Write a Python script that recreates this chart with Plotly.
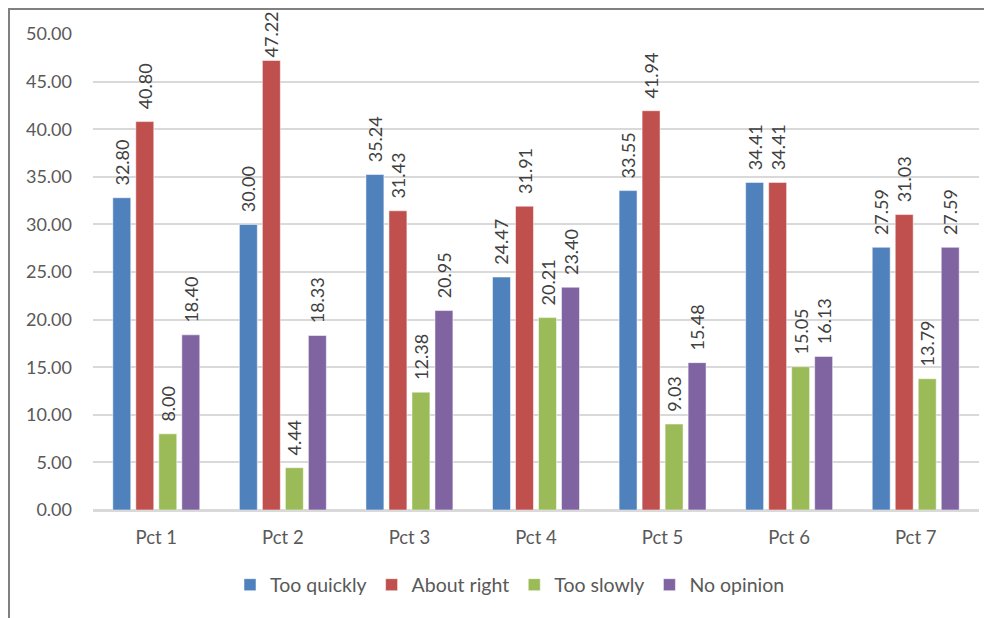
import plotly.graph_objects as go

categories = ["Pct 1", "Pct 2", "Pct 3", "Pct 4", "Pct 5", "Pct 6", "Pct 7"]
too_quickly = [32.80, 30.00, 35.24, 24.47, 33.55, 34.41, 27.59]
about_right = [40.80, 47.22, 31.43, 31.91, 41.94, 34.41, 31.03]
too_slowly = [8.00, 4.44, 12.38, 20.21, 9.03, 15.05, 13.79]
no_opinion = [18.40, 18.33, 20.95, 23.40, 15.48, 16.13, 27.59]
y_ticks = [0, 5, 10, 15, 20, 25, 30, 35, 40, 45, 50]

series = [
    ("Too quickly", too_quickly, "#4F81BD"),
    ("About right", about_right, "#C0504D"),
    ("Too slowly", too_slowly, "#9BBB59"),
    ("No opinion", no_opinion, "#8064A2"),
]

FONT = "Lato, 'Open Sans', sans-serif"


def label(v):
    # near the top of the chart the label sits tight on the bar (no room for the gap)
    pad = "" if v > 45 else "\u00a0\u00a0"
    return pad + f"{v:.2f}"


fig = go.Figure()
for name, vals, color in series:
    fig.add_trace(go.Bar(
        name=name, x=categories, y=vals,
        marker=dict(color=color, line=dict(color="white", width=0.5)),
        text=[label(v) for v in vals],
        textposition="outside", textangle=-90, constraintext="none",
        textfont=dict(family=FONT, size=18, color="#404040"),
        cliponaxis=False,
    ))

# page is offset by 8px body margin
W, H = 984, 610
L, R, T, B = 85, 13, 26, 108
pw, ph = W - L - R, H - T - B

def px(x):
    return (x - L) / pw

def py(y):
    return (H - B - y) / ph

fig.update_layout(
    width=W, height=H,
    margin=dict(l=L, r=R, t=T, b=B, autoexpand=False),
    paper_bgcolor="white", plot_bgcolor="white",
    barmode="group", bargap=0.273, bargroupgap=0.22,
    font=dict(family=FONT, size=18, color="#595959"),
    showlegend=True,
    legend=dict(orientation="h", x=px(502), xanchor="center", y=py(577), yanchor="middle",
                font=dict(family=FONT, size=19.5, color="#595959"),
                traceorder="normal"),
    xaxis=dict(showgrid=False, showline=True, linecolor="#d9d9d9", linewidth=1.5,
               tickfont=dict(family=FONT, size=18.5, color="#595959"), ticks="",
               ticklabelstandoff=10, range=[-0.5, 6.5], fixedrange=True),
    yaxis=dict(range=[0, 50], tickvals=y_ticks, tickformat=".2f", showgrid=True,
               gridcolor="#d9d9d9", gridwidth=1.5, zeroline=True, zerolinecolor="#d9d9d9",
               zerolinewidth=1.5, showline=False, ticks="", ticklabelstandoff=20,
               tickfont=dict(family=FONT, size=18, color="#595959")),
    shapes=[
        dict(type="line", xref="paper", yref="paper", x0=px(0), x1=px(W + 5), y0=py(1), y1=py(1),
             line=dict(color="#808080", width=2)),
        dict(type="line", xref="paper", yref="paper", x0=px(1), x1=px(1), y0=py(0), y1=py(H + 5),
             line=dict(color="#808080", width=2)),
    ],
)

fig.write_html("out.html")
